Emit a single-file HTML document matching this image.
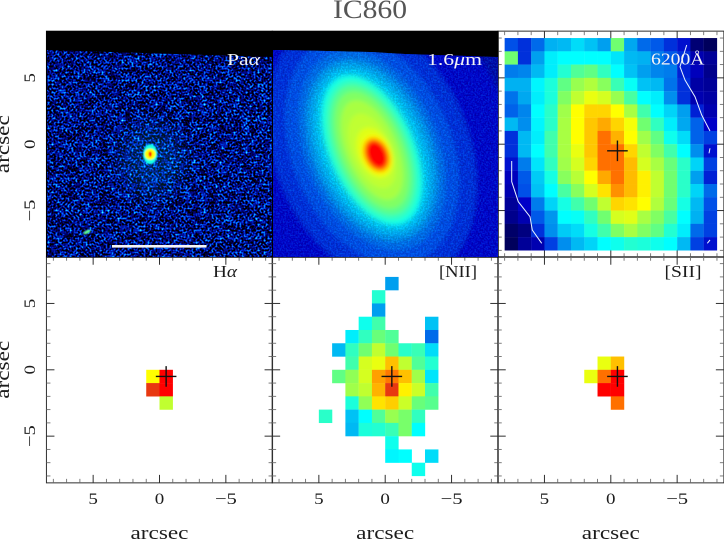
<!DOCTYPE html>
<html lang="en">
<head>
<meta charset="utf-8">
<title>IC860</title>
<style>
html,body{margin:0;padding:0;background:#fff;}
svg{display:block;}
text{font-family:"Liberation Serif",serif;fill:#1c1c1c;}
</style>
</head>
<body>
<svg id="chart" xmlns="http://www.w3.org/2000/svg" width="724" height="540" viewBox="0 0 724 540">
  <defs>
    <filter id="noise-left" filterUnits="userSpaceOnUse" x="46" y="31" width="228" height="227" color-interpolation-filters="sRGB">
      <feTurbulence type="fractalNoise" baseFrequency="0.5" numOctaves="1" seed="7" result="fine"/>
      <feColorMatrix in="fine" type="matrix" values="1 0 0 0 0 1 0 0 0 0 1 0 0 0 0 0 0 0 0 1" result="fineOpaque"/>
      <feTurbulence type="fractalNoise" baseFrequency="0.12" numOctaves="2" seed="11" result="coarse"/>
      <feColorMatrix in="coarse" type="matrix" values="1 0 0 0 0 1 0 0 0 0 1 0 0 0 0 0 0 0 0 1" result="coarseOpaque"/>
      <feComposite in="fineOpaque" in2="coarseOpaque" operator="arithmetic" k1="0" k2="0.8" k3="0.2" k4="0"/>
      <feComponentTransfer>
        <feFuncR type="table" tableValues="0 0 0 0 0 0 0 0 .3 .6 1"/>
        <feFuncG type="table" tableValues="0 0 0 0 0 0 .25 .7 1 1 1"/>
        <feFuncB type="table" tableValues="0 0 0 0 0 .5 .95 1 1 1 1"/>
        <feFuncA type="linear" slope="0" intercept="1"/>
      </feComponentTransfer>
    </filter>
    <filter id="noise-mid" filterUnits="userSpaceOnUse" x="273" y="31" width="226" height="227" color-interpolation-filters="sRGB">
      <feTurbulence type="fractalNoise" baseFrequency="0.6" numOctaves="2" seed="3"/>
      <feColorMatrix type="matrix" values="1 0 0 0 0 1 0 0 0 0 1 0 0 0 0 0 0 0 0 1"/>
      <feComponentTransfer>
        <feFuncR type="table" tableValues="0 0 0 0 0 0 0 0 0 0 0"/>
        <feFuncG type="table" tableValues="0 0 0 0 0 .1 .35 .6 .8 1 1"/>
        <feFuncB type="table" tableValues="0 0 .1 .3 .55 .8 1 1 1 1 1"/>
      </feComponentTransfer>
    </filter>
    <filter id="soft-iso" x="-20%" y="-20%" width="140%" height="140%"><feGaussianBlur stdDeviation="2.2"/></filter>
    <filter id="soft-core" x="-30%" y="-30%" width="160%" height="160%"><feGaussianBlur stdDeviation="0.8"/></filter>
    <filter id="soft-wide" x="-60%" y="-60%" width="220%" height="220%"><feGaussianBlur stdDeviation="12"/></filter>
    <clipPath id="clip-left"><polygon points="47,50 272,57 272,257 47,257"/></clipPath>
    <clipPath id="clip-mid"><polygon points="273,50 305,50.5 370,52 405,54 498,57 498,257 273,257"/></clipPath>
    <mask id="mask-mid-noise" maskUnits="userSpaceOnUse" x="273" y="31" width="226" height="227">
      <rect x="273" y="31" width="226" height="227" fill="#fff"/>
      <ellipse cx="372" cy="150" rx="42" ry="80" transform="rotate(-24 372 150)" fill="#000" filter="url(#soft-iso)"/>
    </mask>
  </defs>
  <rect x="0" y="0" width="724" height="540" fill="#ffffff"/>
  <g id="ticks-layer"></g>

  <g>
    <rect x="46" y="31" width="227" height="226.5" fill="#000"/>
    <g clip-path="url(#clip-left)">
      <rect x="46" y="31" width="228" height="227" filter="url(#noise-left)"/>
      <ellipse cx="152" cy="160" rx="30" ry="34" fill="#00c8f0" opacity=".18" filter="url(#soft-wide)"/>
      <g id="pa-source-layer" filter="url(#soft-core)"></g>
      <ellipse cx="87" cy="232" rx="4" ry="1.6" transform="rotate(-25 87 232)" fill="#60ff90" filter="url(#soft-core)"/>
    </g>
    <rect x="112" y="245" width="94.5" height="2.6" fill="#f4f4f4"/>
  </g>

  <g>
    <rect x="273" y="31" width="225.5" height="226.5" fill="#000"/>
    <g clip-path="url(#clip-mid)">
      <rect x="273" y="31" width="226" height="227" fill="#0008a0"/>
      <g id="isophote-layer" filter="url(#soft-iso)"></g>
      <g mask="url(#mask-mid-noise)">
        <rect x="273" y="31" width="226" height="227" filter="url(#noise-mid)" opacity=".22"/>
      </g>
    </g>
  </g>

  <g id="heatmap-layer"></g>

  <g fill="none" stroke="#e8f4ff" stroke-width="1">
    <polyline points="686.7,45 680,66.7 685,80 695,96.7 701.7,115 710,131"/>
    <polyline points="511.7,161 511.7,181.7 518.3,201.7 530,216.7 532.3,230 541.7,243.3"/>
    <polyline points="710,148.3 709,153.3"/>
    <polyline points="707.3,243.3 710,240"/>
  </g>

  <g id="cross-layer"></g>
  <g id="labels-layer"></g>

  <text x="370" y="18" text-anchor="middle" font-size="26" textLength="74" lengthAdjust="spacingAndGlyphs" style="fill:#555">IC860</text>

  <text x="227" y="65" font-size="17" textLength="33" lengthAdjust="spacingAndGlyphs" style="fill:#f4f4f4">Pa<tspan font-style="italic">α</tspan></text>
  <text x="427" y="65" font-size="17" textLength="55" lengthAdjust="spacingAndGlyphs" style="fill:#f4f4f4">1.6<tspan font-style="italic">μ</tspan>m</text>
  <text x="651" y="64.5" font-size="17" textLength="53.5" lengthAdjust="spacingAndGlyphs" style="fill:#f4f4f4">6200Å</text>
  <text x="213" y="277" font-size="17" textLength="24" lengthAdjust="spacingAndGlyphs">H<tspan font-style="italic">α</tspan></text>
  <text x="439" y="277" font-size="17" textLength="38" lengthAdjust="spacingAndGlyphs">[NII]</text>
  <text x="664.5" y="277" font-size="17" textLength="37" lengthAdjust="spacingAndGlyphs">[SII]</text>
</svg>

<script>
// Tick labels
var xTickLabels = [5, 0, -5];
var yTickLabels = [5, 0, -5];
var axisTitle = "arcsec";

// Heatmap values (0-100 on the colour scale), rows from +8 down to -8 arcsec, columns from +8 to -8 arcsec
var continuum6200 = [
  [15,13,18,26,27,31,28,24,50,25,18,16,13,11,3,1],
  [50,13,24,33,35,35,35,35,32,27,26,20,16,13,8,6],
  [20,21,27,33,40,46,48,42,35,28,24,21,20,12,9,5],
  [26,26,34,39,48,55,58,53,43,36,28,27,19,13,7,6],
  [19,25,33,39,52,60,64,62,55,45,35,33,22,13,8,7],
  [17,21,35,41,56,66,72,72,66,57,44,35,30,24,12,8],
  [27,22,34,41,57,66,74,80,72,65,50,42,33,25,17,10],
  [13,27,33,44,57,66,74,88,78,66,56,48,37,31,17,14],
  [13,27,35,44,57,64,74,88,88,72,60,52,44,35,22,11],
  [11,20,32,42,56,62,72,88,88,76,62,57,49,41,30,14],
  [9,16,29,38,53,59,66,80,88,76,68,60,50,41,24,12],
  [8,15,28,35,45,53,62,70,84,76,68,60,50,41,30,18],
  [6,10,20,30,38,44,50,60,72,70,66,58,49,38,27,15],
  [5,8,16,23,35,36,42,50,62,63,57,52,45,35,26,14],
  [2,4,13,22,29,31,38,44,52,57,52,48,40,33,18,14],
  [1,6,8,14,22,27,30,35,37,40,39,37,35,27,14,11]
];
var _ = null;
var hAlphaMap = [
  [_,_,_,_,_,_,_,_,_,_,_,_,_,_,_,_],
  [_,_,_,_,_,_,_,_,_,_,_,_,_,_,_,_],
  [_,_,_,_,_,_,_,_,_,_,_,_,_,_,_,_],
  [_,_,_,_,_,_,_,_,_,_,_,_,_,_,_,_],
  [_,_,_,_,_,_,_,_,_,_,_,_,_,_,_,_],
  [_,_,_,_,_,_,_,_,_,_,_,_,_,_,_,_],
  [_,_,_,_,_,_,_,_,_,_,_,_,_,_,_,_],
  [_,_,_,_,_,_,_,_,_,_,_,_,_,_,_,_],
  [_,_,_,_,_,_,_,66,100,_,_,_,_,_,_,_],
  [_,_,_,_,_,_,_,94,100,_,_,_,_,_,_,_],
  [_,_,_,_,_,_,_,_,60,_,_,_,_,_,_,_],
  [_,_,_,_,_,_,_,_,_,_,_,_,_,_,_,_],
  [_,_,_,_,_,_,_,_,_,_,_,_,_,_,_,_],
  [_,_,_,_,_,_,_,_,_,_,_,_,_,_,_,_],
  [_,_,_,_,_,_,_,_,_,_,_,_,_,_,_,_],
  [_,_,_,_,_,_,_,_,_,_,_,_,_,_,_,_]
];
var niiMap = [
  [_,_,_,_,_,_,_,_,_,_,_,_,_,_,_,_],
  [_,_,_,_,_,_,_,_,24,_,_,_,_,_,_,_],
  [_,_,_,_,_,_,_,40,_,_,_,_,_,_,_,_],
  [_,_,_,_,_,_,_,24,_,_,_,_,_,_,_,_],
  [_,_,_,_,_,_,37,44,_,_,_,28,_,_,_,_],
  [_,_,_,_,_,33,42,49,46,_,_,18,_,_,_,_],
  [_,_,_,_,27,42,50,60,50,41,43,31,_,_,_,_],
  [_,_,_,_,_,44,62,64,75,60,46,40,_,_,_,_],
  [_,_,_,_,48,54,62,82,87,75,56,32,_,_,_,_],
  [_,_,_,_,_,56,60,78,94,68,61,44,_,_,_,_],
  [_,_,_,_,_,39,54,70,73,61,49,47,_,_,_,_],
  [_,_,_,41,_,28,35,46,55,51,42,_,_,_,_,_],
  [_,_,_,_,_,27,39,40,43,51,35,_,_,_,_,_],
  [_,_,_,_,_,_,_,_,37,_,_,_,_,_,_,_],
  [_,_,_,_,_,_,_,_,34,35,_,31,_,_,_,_],
  [_,_,_,_,_,_,_,_,_,_,37,_,_,_,_,_]
];
var siiMap = [
  [_,_,_,_,_,_,_,_,_,_,_,_,_,_,_,_],
  [_,_,_,_,_,_,_,_,_,_,_,_,_,_,_,_],
  [_,_,_,_,_,_,_,_,_,_,_,_,_,_,_,_],
  [_,_,_,_,_,_,_,_,_,_,_,_,_,_,_,_],
  [_,_,_,_,_,_,_,_,_,_,_,_,_,_,_,_],
  [_,_,_,_,_,_,_,_,_,_,_,_,_,_,_,_],
  [_,_,_,_,_,_,_,_,_,_,_,_,_,_,_,_],
  [_,_,_,_,_,_,_,64,75,_,_,_,_,_,_,_],
  [_,_,_,_,_,_,64,88,100,_,_,_,_,_,_,_],
  [_,_,_,_,_,_,_,100,100,_,_,_,_,_,_,_],
  [_,_,_,_,_,_,_,_,88,_,_,_,_,_,_,_],
  [_,_,_,_,_,_,_,_,_,_,_,_,_,_,_,_],
  [_,_,_,_,_,_,_,_,_,_,_,_,_,_,_,_],
  [_,_,_,_,_,_,_,_,_,_,_,_,_,_,_,_],
  [_,_,_,_,_,_,_,_,_,_,_,_,_,_,_,_],
  [_,_,_,_,_,_,_,_,_,_,_,_,_,_,_,_]
];

// Galaxy isophotes in the 1.6 micron image: semi-axes and centres in arcsec, level on the colour scale
var isophoteLevel = [10, 13, 16, 20, 25, 29, 33, 38, 42, 47, 52, 57, 60, 63, 66, 75, 88, 100];
var isophoteMajor = [14.5, 10.5, 9, 7.9, 7.2, 6.8, 6.4, 6, 5.6, 5.2, 4.7, 4, 3, 2, 1.55, 1.4, 1.2, 1.05];
var isophoteMinor = [10.5, 7.3, 6, 5, 4.5, 4.1, 3.7, 3.35, 3, 2.65, 2.3, 1.9, 1.5, 1.25, 1.1, 0.98, 0.82, 0.7];
var isophoteCentreX = [1, 1, 1, 1, 1, 1, 1, 1, 1, 1, 1, 1, 1, 0.8, 0.64, 0.64, 0.64, 0.64];
var isophoteCentreY = [-0.44, -0.44, -0.44, -0.44, -0.44, -0.44, -0.44, -0.44, -0.44, -0.44, -0.44, -0.44, -0.5, -0.65, -0.8, -0.8, -0.8, -0.8];
var isophoteTilt = -23;

// Pa-alpha nucleus: rings with size in arcsec and level on the colour scale
var paRingRadiusX = [0.9, 0.7, 0.2];
var paRingRadiusY = [1.25, 0.7, 0.35];
var paRingLevel = [38, 66, 100];
var paCentre = [0.7, -0.75];

// Position of the nucleus cross, arcsec
var crossOffset = [-0.5, -0.5];

// Colour scale
var scaleLevels = [0, 10, 15, 25, 35, 42, 50, 60, 66, 75, 82, 88, 94, 100];
var scaleColors = ["#000050", "#0000c8", "#0050e8", "#00a8f0", "#00ffff", "#30ffc0", "#70ff70", "#c0ff30", "#ffff00", "#ffc000", "#ffa000", "#ff7000", "#e83810", "#ff0000"];

var NS = "http://www.w3.org/2000/svg";
var PX_PER_ARCSEC = 13.27;
var panelCols = [159.5, 385.2, 610.8];
var panelRows = [144.2, 369.8];
var HALF = 8.52;

function xAxis(col, v) { return panelCols[col] - PX_PER_ARCSEC * v; }
function yAxis(row, v) { return panelRows[row] - PX_PER_ARCSEC * v; }

function hexToRgb(h) {
  return [parseInt(h.substr(1, 2), 16), parseInt(h.substr(3, 2), 16), parseInt(h.substr(5, 2), 16)];
}
function colorFor(v) {
  var i = 0;
  while (i < scaleLevels.length - 2 && v > scaleLevels[i + 1]) { i++; }
  var t = (v - scaleLevels[i]) / (scaleLevels[i + 1] - scaleLevels[i]);
  t = Math.max(0, Math.min(1, t));
  var a = hexToRgb(scaleColors[i]), b = hexToRgb(scaleColors[i + 1]);
  return "rgb(" + Math.round(a[0] + (b[0] - a[0]) * t) + "," + Math.round(a[1] + (b[1] - a[1]) * t) + "," + Math.round(a[2] + (b[2] - a[2]) * t) + ")";
}
function make(tag, parent, attrs) {
  var el = document.createElementNS(NS, tag);
  for (var k in attrs) { el.setAttribute(k, attrs[k]); }
  parent.appendChild(el);
  return el;
}

// Frames and ticks
var tickLayer = document.getElementById("ticks-layer");
function drawTick(x1, y1, x2, y2, major) {
  var t = make("line", tickLayer, {x1: x1, y1: y1, x2: x2, y2: y2, stroke: major ? "#303030" : "#707070", "stroke-width": major ? 1 : 0.9});
  
  
}
for (var rowIdx = 0; rowIdx < 2; rowIdx++) {
  for (var colIdx = 0; colIdx < 3; colIdx++) {
    var frameLeft = xAxis(colIdx, HALF), frameRight = xAxis(colIdx, -HALF);
    var frameTop = yAxis(rowIdx, HALF), frameBottom = yAxis(rowIdx, -HALF);
    var frameRect = make("rect", tickLayer, {x: frameLeft, y: frameTop, width: frameRight - frameLeft, height: frameBottom - frameTop, fill: "none", stroke: "#303030", "stroke-width": 1});
    
    
    for (var v = -8; v <= 8; v++) {
      var isMajor = v % 5 === 0;
      var tickLen = isMajor ? 8 : 4;
      var px = xAxis(colIdx, v), py = yAxis(rowIdx, v);
      drawTick(px, frameTop, px, frameTop + tickLen, isMajor);
      drawTick(px, frameBottom, px, frameBottom - tickLen, isMajor);
      drawTick(frameLeft, py, frameLeft + tickLen, py, isMajor);
      drawTick(frameRight, py, frameRight - tickLen, py, isMajor);
    }
  }
}

// Pa-alpha nucleus
var paLayer = document.getElementById("pa-source-layer");
for (var p = 0; p < paRingLevel.length; p++) {
  var ring = make("ellipse", paLayer, {
    cx: xAxis(0, paCentre[0]), cy: yAxis(0, paCentre[1]),
    rx: paRingRadiusX[p] * PX_PER_ARCSEC * 0.6, ry: paRingRadiusY[p] * PX_PER_ARCSEC * 0.6,
    fill: colorFor(paRingLevel[p])
  });
  
  
}

// Galaxy isophotes
var isoLayer = document.getElementById("isophote-layer");
for (var n = 0; n < isophoteLevel.length; n++) {
  var isoX = xAxis(1, isophoteCentreX[n]), isoY = yAxis(0, isophoteCentreY[n]);
  var iso = make("ellipse", isoLayer, {
    cx: isoX, cy: isoY,
    rx: isophoteMinor[n] * PX_PER_ARCSEC, ry: isophoteMajor[n] * PX_PER_ARCSEC,
    transform: "rotate(" + isophoteTilt + " " + isoX + " " + isoY + ")",
    fill: colorFor(isophoteLevel[n])
  });
  
  
}

// Heatmaps
var heatLayer = document.getElementById("heatmap-layer");
function drawHeatmap(values, col, row) {
  for (var r = 0; r < values.length; r++) {
    for (var c = 0; c < values[r].length; c++) {
      if (values[r][c] === null) { continue; }
      var x0 = xAxis(col, 8 - c), x1 = xAxis(col, 7 - c);
      var y0 = yAxis(row, 8 - r), y1 = yAxis(row, 7 - r);
      var cell = make("rect", heatLayer, {x: x0, y: y0, width: x1 - x0 + 0.15, height: y1 - y0 + 0.15, fill: colorFor(values[r][c])});
      
      
    }
  }
}
drawHeatmap(continuum6200, 2, 0);
drawHeatmap(hAlphaMap, 0, 1);
drawHeatmap(niiMap, 1, 1);
drawHeatmap(siiMap, 2, 1);

// Nucleus crosses
var crossLayer = document.getElementById("cross-layer");
var crossPanels = [[2, 0], [0, 1], [1, 1], [2, 1]];
for (var k = 0; k < crossPanels.length; k++) {
  var crossX = xAxis(crossPanels[k][0], crossOffset[0]), crossY = yAxis(crossPanels[k][1], crossOffset[1]);
  var crossH = make("line", crossLayer, {x1: crossX - 10.3, y1: crossY, x2: crossX + 10.3, y2: crossY, stroke: "#111", "stroke-width": 1.4});
  
  
  var crossV = make("line", crossLayer, {x1: crossX, y1: crossY - 10.3, x2: crossX, y2: crossY + 10.3, stroke: "#111", "stroke-width": 1.4});
  
  
}

// Axis labels
var labelLayer = document.getElementById("labels-layer");
function tickString(v) { return v < 0 ? "\u2212" + Math.abs(v) : String(v); }
function tickWidth(v) { return v < 0 ? 22 : 9.5; }
for (var cb = 0; cb < 3; cb++) {
  for (var a = 0; a < xTickLabels.length; a++) {
    var xl = make("text", labelLayer, {x: xAxis(cb, xTickLabels[a]), y: 504, "text-anchor": "middle", "font-size": 16, textLength: tickWidth(xTickLabels[a]), lengthAdjust: "spacingAndGlyphs"});
    xl.textContent = tickString(xTickLabels[a]);
    
    
  }
  var xt = make("text", labelLayer, {x: panelCols[cb], y: 539, "text-anchor": "middle", "font-size": 19, textLength: 58, lengthAdjust: "spacingAndGlyphs"});
  xt.textContent = axisTitle;
  
  
}
for (var rb = 0; rb < 2; rb++) {
  for (var b = 0; b < yTickLabels.length; b++) {
    var ty = yAxis(rb, yTickLabels[b]);
    var yl = make("text", labelLayer, {x: 35, y: ty, "text-anchor": "middle", "font-size": 16, textLength: tickWidth(yTickLabels[b]), lengthAdjust: "spacingAndGlyphs", transform: "rotate(-90 35 " + ty + ")"});
    yl.textContent = tickString(yTickLabels[b]);
    
    
  }
  var yc = panelRows[rb];
  var yt = make("text", labelLayer, {x: 9, y: yc, "text-anchor": "middle", "font-size": 19, textLength: 58, lengthAdjust: "spacingAndGlyphs", transform: "rotate(-90 9 " + yc + ")"});
  yt.textContent = axisTitle;
  
  
}
</script>
</body>
</html>
